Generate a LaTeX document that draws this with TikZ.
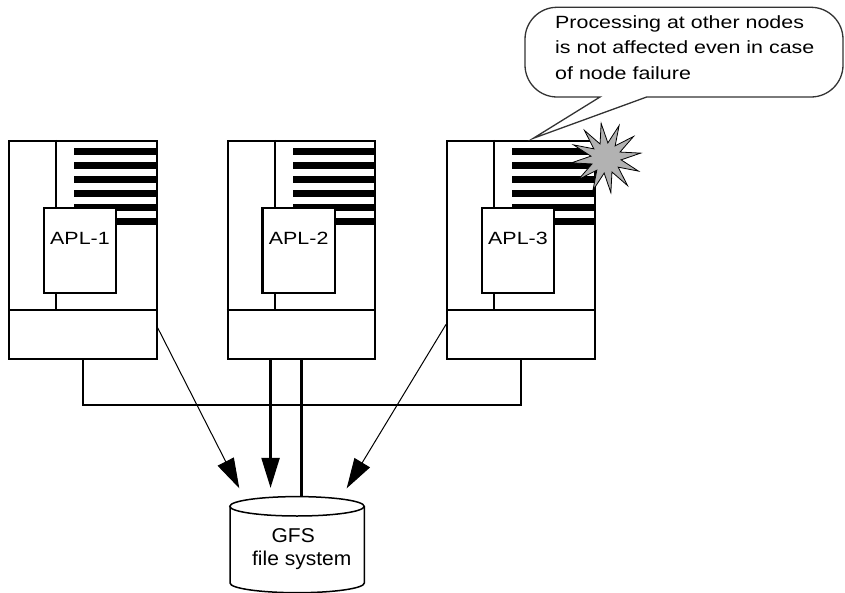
\documentclass[tikz,border=0pt]{standalone}
\usepackage{fontspec}
\setmainfont[FakeStretch=1.21]{Liberation Sans}
\newfontfamily\disquefont[FakeStretch=1.05]{Liberation Sans}
\usetikzlibrary{arrows.meta,shapes.geometric}
\begin{document}
\begin{tikzpicture}[x=1pt,y=-1pt,
    trait/.style={line width=2.2pt},
    mince/.style={line width=1pt},
    fleche/.style={-{Triangle[length=30pt,width=18pt]}},
    serveur/.style={draw,line width=2.2pt,inner sep=0pt,minimum width=147.5pt,minimum height=217.7pt,anchor=north west},
    appli/.style={draw,line width=2.2pt,fill=white,inner sep=0pt,minimum width=72.3pt,text height=36.3pt,text depth=49pt,anchor=north west,font=\fontsize{17.7}{21}\selectfont},
    bulle/.style={draw=black!80,line width=1.3pt}]
    \useasboundingbox (0,0) rectangle (845,593);

    % Serveurs
    \foreach \x/\n in {8/1,226.7/2,446/3}{
        \foreach \k in {0,...,5}
            \fill (\x+66,147.7+14*\k) rectangle (\x+147.5,155+14*\k);
        \draw[trait] (\x+48,140) -- (\x+48,310);
        \draw[trait] (\x,310) -- ++(147.5,0);
        \node[appli] (apl\n) at (\x+34.7,207) {APL-\n};
        \node[serveur] (srv\n) at (\x,140) {};
    }

    % Bus
    \draw[trait] (srv1.south) -- ++(0,45) -| (srv3.south);

    % Disque
    \coordinate (haut) at (297,496.7);
    \draw[line width=1.5pt] (230,506.3) -- (230,583) arc[start angle=180,end angle=0,x radius=67.15,y radius=9.7] -- (364.3,506.3);
    \draw[line width=1.5pt] (297,506.3) ellipse[x radius=67.15,y radius=9.7];
    \node[align=center,inner sep=0pt,anchor=north,font=\disquefont\fontsize{20}{22.7}\selectfont] (gfs) at (301.7,528.7) {GFS\rule{17pt}{0pt}\\file system};

    % Liaisons
    \draw[trait] (srv2.south) -- (srv2.south |- haut);
    \draw[trait,fleche] ([xshift=-31pt]srv2.south) -- ++(0,128);
    \coordinate (pointe1) at (239.3,488.3);
    \coordinate (pointe3) at (346.7,488.3);
    \draw[mince,fleche] ([yshift=-77.9pt]srv1.east) -- (pointe1);
    \draw[mince,fleche] ([yshift=-74.5pt]srv3.west) -- (pointe3);

    % Panne
    \node[star,star points=12,star point ratio=2.3,minimum size=70pt,inner sep=0pt,fill=gray!60,draw,line width=0.8pt,rotate=8] (panne) at (606,158) {};

    % Bulle
    \coordinate (pointe) at (533.3,138.3);
    \draw[bulle] (pointe) -- (600,97) [rounded corners=32pt] -- (525,97) -- (525,7.3) -- (843,7.3) -- (843,97) [sharp corners] -- (646.7,97) -- cycle;
    \node[anchor=north west,inner sep=0pt,align=left,font=\fontsize{17.7}{25.3}\selectfont] (remarque) at (555,15.4) {Processing at other nodes\\is not affected even in case\\of node failure};
\end{tikzpicture}
\end{document}
